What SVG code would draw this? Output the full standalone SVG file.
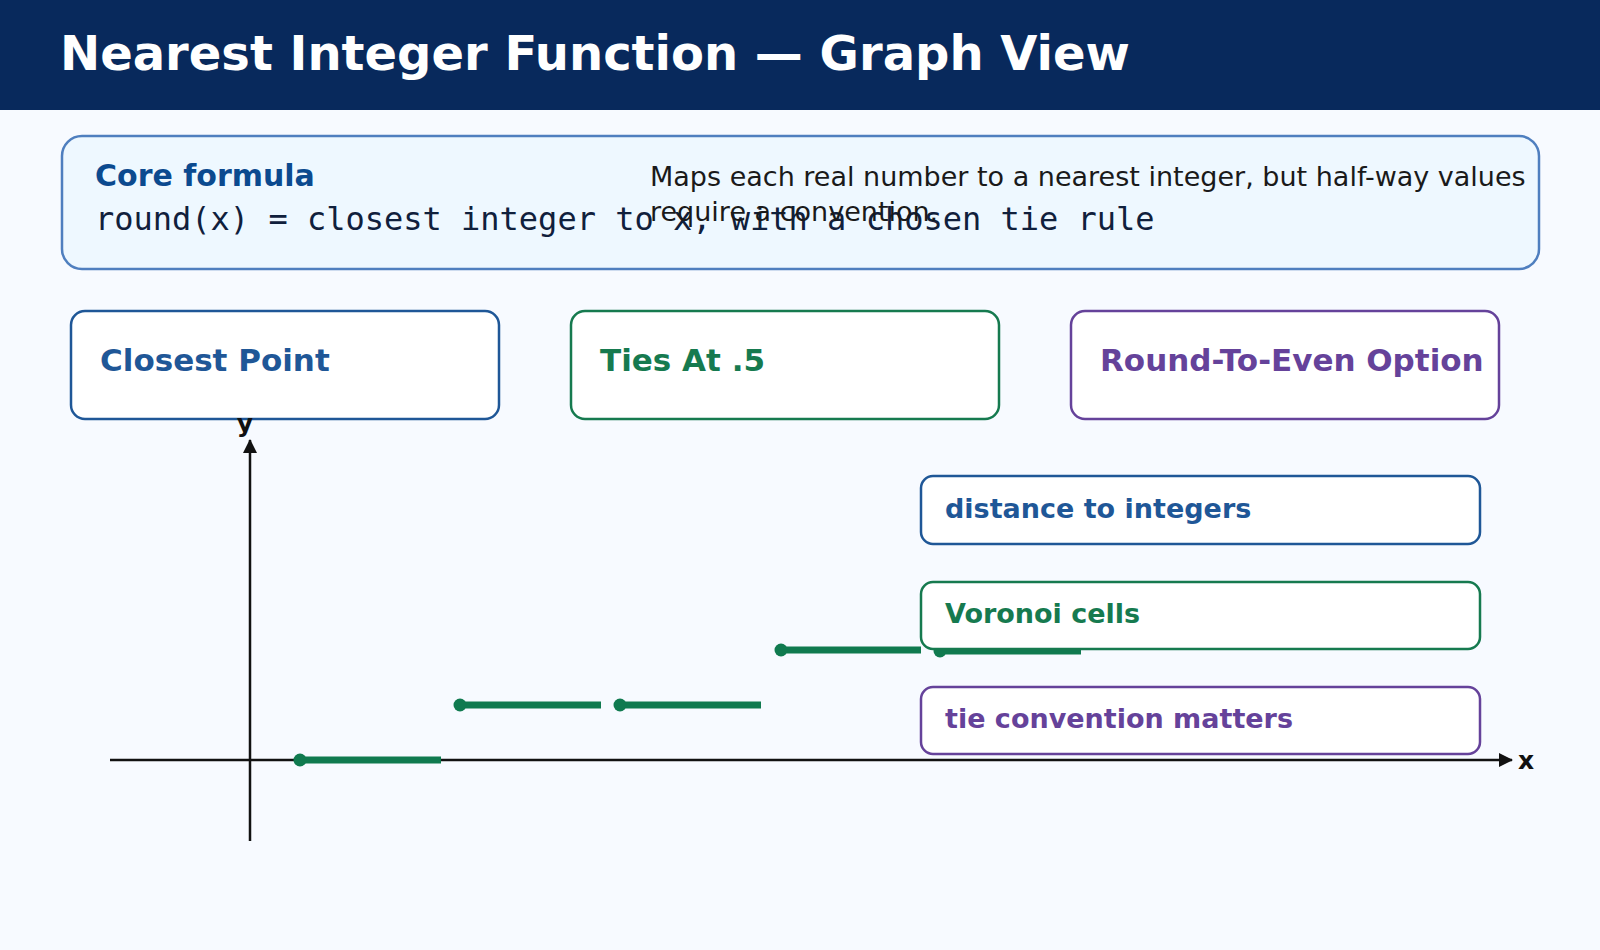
<svg xmlns="http://www.w3.org/2000/svg" width="1600" height="950" viewBox="0 0 1600 950">
<defs>
<style>
.t{font-family:"DejaVu Sans",sans-serif}
.card{fill:#fff;stroke-width:2.5}
.seg{stroke:#107a4f;stroke-width:7}
.dot{fill:#107a4f}
</style>
<marker id="ar" markerWidth="14" markerHeight="14" refX="13" refY="7" orient="auto" markerUnits="userSpaceOnUse"><path d="M0,0L14,7L0,14z" fill="#111"/></marker>
</defs>
<rect width="1600" height="950" fill="#f7faff"/>
<rect width="1600" height="110" fill="#08295c"/>
<text class="t" x="60" y="70" font-size="48" font-weight="bold" fill="#fff">Nearest Integer Function — Graph View</text>
<g id="formula">
<rect x="62" y="136" width="1477" height="133" rx="20" fill="#eef8ff" stroke="#4f7fbf" stroke-width="2.5"/>
<text class="t" x="95" y="186" font-size="30" font-weight="bold" fill="#0b4a8f">Core formula</text>
<text x="95" y="230" font-size="32" fill="#10203c" font-family="DejaVu Sans Mono,monospace">round(x) = closest integer to x, with a chosen tie rule</text>
<text class="t" x="650" y="186" font-size="27" fill="#1a1a1a">Maps each real number to a nearest integer, but half-way values</text>
<text class="t" x="650" y="221" font-size="27" fill="#1a1a1a">require a convention.</text>
</g>
<g id="card1"><rect class="card" x="71" y="311" width="428" height="108" rx="14" stroke="#1f5797"/><text class="t" x="100" y="371" font-size="31" font-weight="bold" fill="#1f5797">Closest Point</text></g>
<g id="card2"><rect class="card" x="571" y="311" width="428" height="108" rx="14" stroke="#167a4f"/><text class="t" x="600" y="371" font-size="31" font-weight="bold" fill="#167a4f">Ties At .5</text></g>
<g id="card3"><rect class="card" x="1071" y="311" width="428" height="108" rx="14" stroke="#65429a"/><text class="t" x="1100" y="371" font-size="31" font-weight="bold" fill="#65429a">Round-To-Even Option</text></g>
<g id="connectors">
<line x1="250" y1="841" x2="250" y2="440" stroke="#111" stroke-width="2.5" marker-end="url(#ar)"/>
<line x1="110" y1="760" x2="1512" y2="760" stroke="#111" stroke-width="2.5" marker-end="url(#ar)"/>
<text class="t" x="245" y="432" font-size="25" font-weight="bold" text-anchor="middle" fill="#111">y</text>
<text class="t" x="1518" y="769" font-size="25" font-weight="bold" fill="#111">x</text>
<line class="seg" x1="300" y1="760" x2="441" y2="760"/><circle class="dot" cx="300" cy="760" r="6.5"/>
<line class="seg" x1="460" y1="705" x2="601" y2="705"/><circle class="dot" cx="460" cy="705" r="6.5"/>
<line class="seg" x1="620" y1="705" x2="761" y2="705"/><circle class="dot" cx="620" cy="705" r="6.5"/>
<line class="seg" x1="781" y1="650" x2="921" y2="650"/><circle class="dot" cx="781" cy="650" r="6.5"/>
<line class="seg" x1="940" y1="651" x2="1081" y2="651"/><circle class="dot" cx="940" cy="651" r="6.5"/>
</g>
<g id="note1"><rect class="card" x="921" y="476" width="559" height="68" rx="12" stroke="#1f5797"/><text class="t" x="945" y="518" font-size="27" font-weight="bold" fill="#1f5797">distance to integers</text></g>
<g id="note2"><rect class="card" x="921" y="582" width="559" height="67" rx="12" stroke="#167a4f"/><text class="t" x="945" y="623" font-size="27" font-weight="bold" fill="#167a4f">Voronoi cells</text></g>
<g id="note3"><rect class="card" x="921" y="687" width="559" height="67" rx="12" stroke="#65429a"/><text class="t" x="945" y="728" font-size="27" font-weight="bold" fill="#65429a">tie convention matters</text></g>
</svg>
